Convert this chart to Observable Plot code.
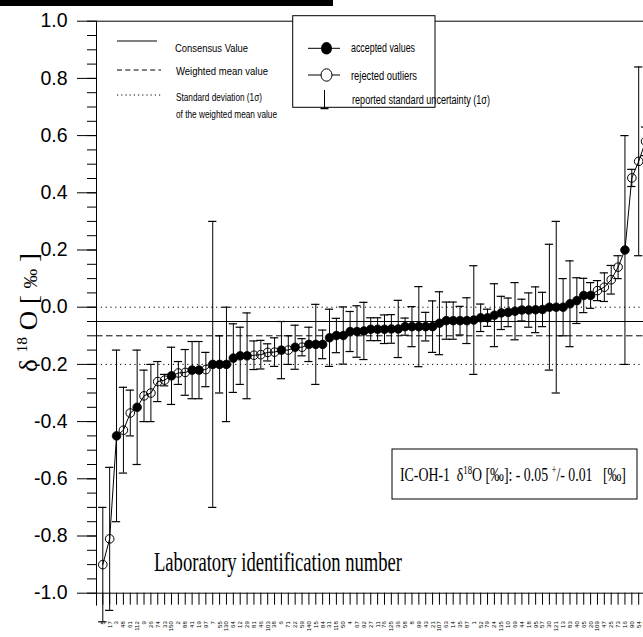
<!DOCTYPE html>
<html><head><meta charset="utf-8">
<script src="https://cdn.jsdelivr.net/npm/d3@7"></script>
<script src="https://cdn.jsdelivr.net/npm/@observablehq/plot@0.6"></script>
<style>
html,body{margin:0;padding:0;background:#fff;}
#chart{position:relative;width:643px;height:637px;overflow:hidden;}
</style></head><body><div id="chart"></div>
<script>
// Laboratory identification numbers (x tick labels), in plotted order
const labIds = ["5","17","3","48","61","112","9","26","74","33",
  "150","2","88","41","19","97","7","55","130","64",
  "12","29","81","46","103","38","6","71","22","59",
  "140","15","84","31","118","50","4","67","92","27",
  "11","76","125","36","58","8","99","43","21","107",
  "63","14","35","87","1","52","79","24","135","10",
  "69","44","18","95","57","30","121","13","83","40",
  "65","20","109","47","25","73","16","90","54","37"];
// reported delta 18O values [per mil]
const values = [-0.90,-0.81,-0.45,-0.43,-0.37,-0.35,-0.31,-0.30,-0.26,-0.255,
  -0.24,-0.23,-0.228,-0.22,-0.22,-0.218,-0.20,-0.20,-0.20,-0.178,
  -0.17,-0.17,-0.168,-0.166,-0.158,-0.157,-0.15,-0.15,-0.14,-0.14,
  -0.13,-0.13,-0.13,-0.107,-0.099,-0.099,-0.085,-0.085,-0.083,-0.077,
  -0.077,-0.077,-0.076,-0.076,-0.068,-0.068,-0.068,-0.068,-0.068,-0.056,
  -0.047,-0.047,-0.047,-0.047,-0.045,-0.037,-0.037,-0.028,-0.02,-0.018,
  -0.014,-0.01,-0.01,-0.009,-0.008,0.0,0.0,0.0,0.012,0.023,
  0.041,0.041,0.058,0.07,0.096,0.14,0.20,0.452,0.51,0.58];
// reported standard uncertainty (1 sigma)
const uncert = [0.20,0.25,0.30,0.15,0.08,0.20,0.09,0.10,0.07,0.02,
  0.10,0.04,0.08,0.10,0.10,0.06,0.50,0.10,0.20,0.12,
  0.10,0.15,0.05,0.05,0.03,0.05,0.10,0.05,0.077,0.03,
  0.06,0.14,0.05,0.10,0.06,0.10,0.07,0.09,0.10,0.04,
  0.04,0.05,0.05,0.10,0.03,0.07,0.14,0.05,0.09,0.11,
  0.065,0.065,0.05,0.08,0.19,0.048,0.03,0.11,0.058,0.05,
  0.10,0.038,0.06,0.08,0.06,0.22,0.30,0.10,0.15,0.08,
  0.06,0.045,0.035,0.05,0.05,0.04,0.40,0.03,0.33,0.05];
// A = accepted value, R = rejected outlier
const status = ["R","R","A","R","R","A","R","R","R","R",
  "A","R","R","A","A","R","A","A","A","A",
  "A","A","R","R","R","R","A","R","A","R",
  "A","A","A","A","A","A","A","A","A","A",
  "A","A","A","A","A","A","A","A","A","A",
  "A","A","A","A","A","A","A","A","A","A",
  "A","A","A","A","A","A","A","A","A","A",
  "A","A","R","R","R","R","A","R","R","R"];
const yTicks = [1.0,0.8,0.6,0.4,0.2,0.0,-0.2,-0.4,-0.6,-0.8,-1.0];
const yTickLabels = ["1.0","0.8","0.6","0.4","0.2","0.0","-0.2","-0.4","-0.6","-0.8","-1.0"];
const consensusValue = [-0.05];
const weightedMean = [-0.10];
const sdBounds = [0.00, -0.20];

const data = values.map((v, i) => ({i, v, u: uncert[i], acc: status[i] === "A", id: labIds[i]}));
const minorTicks = d3.range(-20, 21).map(k => k * 0.05);
const xMin = -0.917, xMax = 78.70;
const sans = "'Liberation Sans', Arial, sans-serif";
const serif = "'Liberation Serif', 'Times New Roman', serif";

const plot = Plot.plot({
  width: 643, height: 637,
  marginLeft: 96, marginRight: 0, marginTop: 20.7, marginBottom: 44.3,
  x: {domain: [xMin, xMax]},
  y: {domain: [-1, 1]},
  style: {background: "white", overflow: "visible", color: "#000"},
  marks: [
    Plot.ruleY(sdBounds, {stroke: "#000", strokeWidth: 1, strokeDasharray: "1.2,3.6"}),
    Plot.ruleY(consensusValue, {stroke: "#000", strokeWidth: 1}),
    Plot.ruleY(weightedMean, {stroke: "#000", strokeWidth: 1, strokeDasharray: "6.5,3.5"}),
    Plot.ruleY([1], {stroke: "#000"}),
    Plot.ruleY([-1], {stroke: "#000"}),
    Plot.ruleX([xMin], {y1: -1.045, y2: 1, stroke: "#000"}),
    Plot.axisY({ticks: minorTicks, tickSize: 9, tickFormat: () => "", label: null, stroke: "#000"}),
    Plot.axisY({ticks: yTicks, tickSize: 19, tickPadding: 10, tickFormat: d => yTickLabels[yTicks.indexOf(d)],
      label: null, fontSize: 19.5, fontFamily: sans, stroke: "#000", fill: "#000"}),
    Plot.axisX({ticks: data.map(d => d.i), tickSize: 12, tickPadding: 16, tickRotate: -90,
      tickFormat: i => labIds[i], label: null, fontSize: 6, fontFamily: sans, stroke: "#000", fill: "#000"}),
    Plot.ruleX(data, {x: "i", y1: d => d.v - d.u, y2: d => d.v + d.u, stroke: "#000", strokeWidth: 1}),
    Plot.ruleY(data, {y: d => d.v + d.u, x1: d => d.i - 0.6, x2: d => d.i + 0.6, stroke: "#000", strokeWidth: 1.2}),
    Plot.ruleY(data, {y: d => d.v - d.u, x1: d => d.i - 0.6, x2: d => d.i + 0.6, stroke: "#000", strokeWidth: 1.2}),
    Plot.line(data, {x: "i", y: "v", stroke: "#000", strokeWidth: 1}),
    Plot.dot(data.filter(d => d.acc), {x: "i", y: "v", r: 4.3, fill: "#000", stroke: "#000", strokeWidth: 0.8}),
    Plot.dot(data.filter(d => !d.acc), {x: "i", y: "v", r: 4.3, fill: "none", stroke: "#000", strokeWidth: 1})
  ]
});
document.getElementById("chart").appendChild(plot);

// ---- annotations / legends ----
const svg = d3.select(plot);
const g = svg.append("g").attr("text-anchor", "start");
function txt(x, y, s, size, family, len) {
  const t = g.append("text").attr("x", x).attr("y", y).attr("font-size", size).attr("text-anchor", "start")
    .attr("font-family", family).attr("fill", "#000").style("white-space", "pre").text(s);
  if (len) t.attr("textLength", len).attr("lengthAdjust", "spacingAndGlyphs");
  return t;
}
// cropped title bar
g.append("rect").attr("x", 0).attr("y", 0).attr("width", 333).attr("height", 6).attr("fill", "#000");

// legend 1 (reference lines)
g.append("line").attr("x1", 117).attr("x2", 157).attr("y1", 41).attr("y2", 41).attr("stroke", "#000");
g.append("line").attr("x1", 117).attr("x2", 161).attr("y1", 70).attr("y2", 70).attr("stroke", "#000").attr("stroke-dasharray", "5,3.3");
g.append("line").attr("x1", 117).attr("x2", 161).attr("y1", 95).attr("y2", 95).attr("stroke", "#000").attr("stroke-dasharray", "1.2,3");
txt(175, 51.5, "Consensus Value", 11.5, sans, 73);
txt(176, 74.5, "Weighted mean value", 11.5, sans, 92);
txt(176, 101, "Standard deviation (1σ)", 11.5, sans, 86);
txt(176, 117.5, "of the weighted mean value", 11.5, sans, 101);

// legend 2 (symbols)
g.append("rect").attr("x", 292.7).attr("y", 15.7).attr("width", 142.3).attr("height", 91.6)
  .attr("fill", "#fff").attr("stroke", "#000");
g.append("line").attr("x1", 308).attr("x2", 340).attr("y1", 48.3).attr("y2", 48.3).attr("stroke", "#000");
g.append("ellipse").attr("cx", 326.5).attr("cy", 48.3).attr("rx", 5.5).attr("ry", 6.2).attr("fill", "#000");
g.append("line").attr("x1", 308).attr("x2", 340).attr("y1", 75).attr("y2", 75).attr("stroke", "#000");
g.append("ellipse").attr("cx", 326.5).attr("cy", 75).attr("rx", 5.5).attr("ry", 6.2).attr("fill", "#fff").attr("stroke", "#000");
g.append("line").attr("x1", 324.5).attr("x2", 324.5).attr("y1", 90).attr("y2", 108.5).attr("stroke", "#000");
g.append("line").attr("x1", 320.5).attr("x2", 328.5).attr("y1", 108.5).attr("y2", 108.5).attr("stroke", "#000").attr("stroke-width", 1.5);
txt(351, 51.5, "accepted values", 12, sans, 64);
txt(351, 79.5, "rejected outliers", 12, sans, 66);
txt(352, 104, "reported standard uncertainty (1σ)", 12, sans, 138);

// sample summary box
g.append("rect").attr("x", 392).attr("y", 449).attr("width", 245).attr("height", 50)
  .attr("fill", "#fff").attr("stroke", "#000");
const annG = g.append("g");
const ann = annG.append("text").attr("x", 0).attr("y", 0).attr("font-size", 19).attr("font-family", serif)
  .attr("text-anchor", "start").attr("fill", "#000").style("white-space", "pre");
ann.append("tspan").text("IC-OH-1  δ");
ann.append("tspan").attr("dy", -7).attr("font-size", 12).text("18");
ann.append("tspan").attr("dy", 7).text("O [‰]: - 0.05 ");
ann.append("tspan").attr("dy", -7).attr("font-size", 12).text("+");
ann.append("tspan").attr("dy", 7).text("/- 0.01   [‰]");
let annW = 300;
try { annW = ann.node().getComputedTextLength() || 300; } catch (e) {}
annG.attr("transform", `translate(400,481) scale(${226 / annW},1)`);

// x title
txt(154, 570.7, "Laboratory identification number", 27, serif, 248);

// y title
const yl = g.append("text").attr("transform", "translate(37,312.5) rotate(-90)").attr("text-anchor", "middle")
  .attr("font-size", 26).attr("font-family", serif).attr("fill", "#000").style("white-space", "pre")
  .attr("textLength", 119).attr("lengthAdjust", "spacingAndGlyphs");
yl.append("tspan").text("δ ");
yl.append("tspan").attr("dy", -10).attr("font-size", 15).text("18");
yl.append("tspan").attr("dy", 10).text(" O [ ");
yl.append("tspan").attr("font-size", 19).text("‰");
yl.append("tspan").text(" ]");
</script></body></html>
